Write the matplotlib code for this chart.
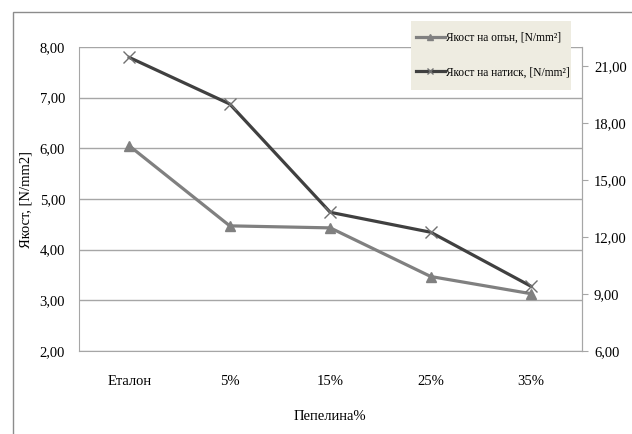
import matplotlib
matplotlib.use("Agg")
import matplotlib.pyplot as plt
from matplotlib.patches import Rectangle
from matplotlib.lines import Line2D

categories = ["Еталон", "5%", "15%", "25%", "35%"]
tensile = [6.05, 4.47, 4.43, 3.47, 3.13]          # left axis
compressive = [21.45, 19.0, 13.3, 12.25, 9.4]      # right axis
left_ticks = [2, 3, 4, 5, 6, 7, 8]
right_ticks = [6, 9, 12, 15, 18, 21]
label_tensile = "Якост на опън, [N/mm²]"
label_comp = "Якост на натиск, [N/mm²]"
ylabel = "Якост, [N/mm2]"
xlabel = "Пепелина%"

plt.rcParams['font.family'] = ['Liberation Serif', 'DejaVu Serif']
FS = 10.5

fig = plt.figure(figsize=(6.32, 4.34), dpi=100)
W, H = 632, 434

# outer chart border
fig.patches.append(Rectangle((13 / W, -0.1), 1.2, 1 - 12 / H + 0.1,
                             transform=fig.transFigure, fill=False,
                             edgecolor='#8c8c8c', linewidth=1.0))
# legend background box
fig.patches.append(Rectangle((411 / W, 1 - 90 / H), 160 / W, 69 / H,
                             transform=fig.transFigure, facecolor='#eeece1',
                             edgecolor='none', zorder=2))

ax = fig.add_axes([79 / W, 1 - 351 / H, (581.5 - 79) / W, (351 - 47) / H])
ax2 = ax.twinx()

x = list(range(len(categories)))
grid_c = '#a6a6a6'
c_light = '#808080'
c_dark = '#404040'

ax.set_ylim(2, 8)
ax.set_yticks(left_ticks)
ax.set_yticklabels([f"{v:.2f}".replace('.', ',') for v in left_ticks], fontsize=FS)
ax.set_xlim(-0.5, len(categories) - 0.5)
ax.set_xticks(x)
ax.set_xticklabels(categories, fontsize=FS)
ax.tick_params(axis='y', length=0, pad=10)
ax.tick_params(axis='x', length=0, pad=17)
ax.yaxis.grid(True, color=grid_c, linewidth=1.0)
ax.set_axisbelow(True)
for s in ax.spines.values():
    s.set_color(grid_c)
ax.spines['top'].set_visible(False)
ax.set_ylabel(ylabel, fontsize=FS, labelpad=5)
ax.set_xlabel(xlabel, fontsize=FS, labelpad=16)

ax.plot(x, tensile, color=c_light, linewidth=2.3, marker='^', markersize=7,
        markerfacecolor=c_light, markeredgecolor=c_light, zorder=3)

ax2.set_ylim(6, 22)
ax2.set_yticks(right_ticks)
ax2.set_yticklabels([f"{v:.2f}".replace('.', ',') for v in right_ticks], fontsize=FS)
ax2.tick_params(axis='y', length=4, color=grid_c, pad=5)
for s in ax2.spines.values():
    s.set_visible(False)
ax2.spines['right'].set_visible(True)
ax2.spines['right'].set_color(grid_c)
ax2.plot(x, compressive, color=c_dark, linewidth=2.3, marker='x', markersize=8,
         markeredgewidth=1.0, markeredgecolor='#707070', zorder=3)

handles = [
    Line2D([], [], color=c_light, linewidth=2.3, marker='^', markersize=4,
           markerfacecolor=c_light),
    Line2D([], [], color=c_dark, linewidth=2.3, marker='x', markersize=5,
           markeredgecolor='#707070', markeredgewidth=1.0),
]
leg = fig.legend(handles, [label_tensile, label_comp],
                 loc='center left', bbox_to_anchor=(416 / W, 1 - 55 / H),
                 fontsize=8.3, frameon=False,
                 borderaxespad=0, borderpad=0, handlelength=2.5,
                 handletextpad=0.1, labelspacing=1.95)
leg.set_zorder(3)

fig.savefig("out.png", dpi=100)
